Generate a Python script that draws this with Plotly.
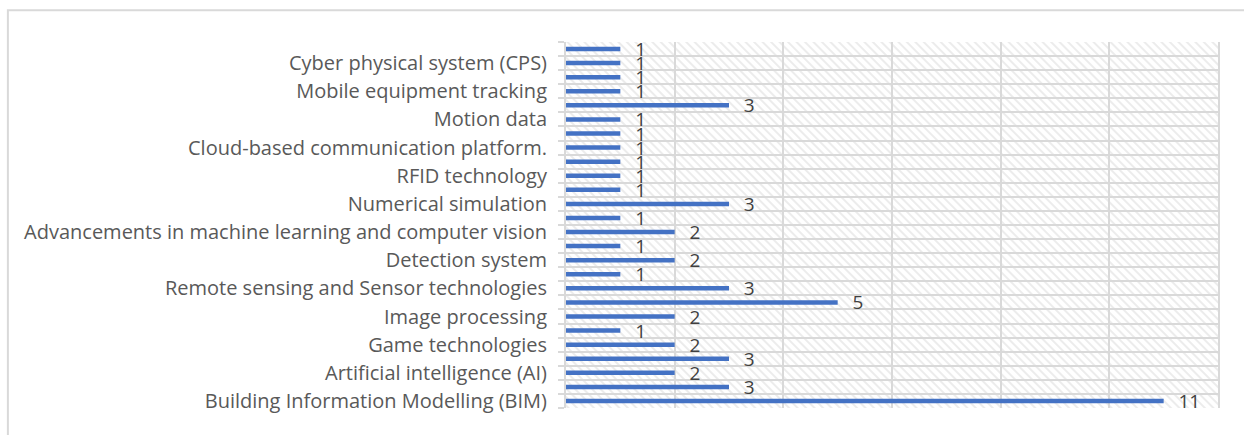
import base64
import plotly.graph_objects as go

# Categories listed bottom to top (only every other one is labelled on the axis)
categories = [
    "Building Information Modelling (BIM)", "Item 2",
    "Artificial intelligence (AI)", "Item 4",
    "Game technologies", "Item 6",
    "Image processing", "Item 8",
    "Remote sensing and Sensor technologies", "Item 10",
    "Detection system", "Item 12",
    "Advancements in machine learning and computer vision", "Item 14",
    "Numerical simulation", "Item 16",
    "RFID technology", "Item 18",
    "Cloud-based communication platform.", "Item 20",
    "Motion data", "Item 22",
    "Mobile equipment tracking", "Item 24",
    "Cyber physical system (CPS)", "Item 26",
]
values = [11, 3, 2, 3, 2, 1, 2, 5, 3, 1, 2, 1, 2, 1, 3, 1, 1, 1, 1, 1, 1, 3, 1, 1, 1, 1]
tick_labels = [c if i % 2 == 0 else "" for i, c in enumerate(categories)]

FONT = "Open Sans"
GRID = "#d9d9d9"

# hatched plot-area background
svg = (
    '<svg xmlns="http://www.w3.org/2000/svg" width="652" height="366">'
    '<defs><pattern id="h" width="6" height="6" patternUnits="userSpaceOnUse" '
    'patternTransform="rotate(-45)">'
    '<line x1="1" y1="0" x2="1" y2="6" stroke="#e2e2e2" stroke-width="1.3"/>'
    '</pattern></defs>'
    '<rect width="100%" height="100%" fill="white"/>'
    '<rect width="100%" height="100%" fill="url(#h)"/></svg>'
)
svg_uri = "data:image/svg+xml;base64," + base64.b64encode(svg.encode()).decode()

fig = go.Figure(
    go.Bar(
        x=values,
        y=categories,
        orientation="h",
        width=0.32,
        marker=dict(color="#4472C4", line=dict(width=0)),
        texttemplate="\u00a0\u00a0\u00a0%{x}",
        textposition="outside",
        constraintext="none",
        textfont=dict(family=FONT, size=19, color="#404040"),
        cliponaxis=False,
        hoverinfo="x+y",
    )
)

fig.update_layout(
    width=1244,
    height=435,
    margin=dict(l=566, r=26, t=42, b=27),
    paper_bgcolor="white",
    plot_bgcolor="white",
    showlegend=False,
    font=dict(family=FONT, size=20, color="#595959"),
    images=[dict(
        source=svg_uri, xref="x domain", yref="y domain",
        x=0, y=1, sizex=1, sizey=1, xanchor="left", yanchor="top",
        sizing="stretch", layer="below",
    )],
    shapes=[dict(
        type="rect", xref="paper", yref="paper",
        x0=-0.856, x1=1.2, y0=-0.3, y1=1.087,
        line=dict(color=GRID, width=2), fillcolor="rgba(0,0,0,0)",
    )],
)

fig.update_xaxes(
    range=[0, 12], dtick=2, showgrid=True, gridcolor=GRID, gridwidth=2,
    showticklabels=False, zeroline=False, showline=False, fixedrange=True,
)
fig.update_yaxes(
    type="category", tickmode="array", tickvals=categories, ticktext=tick_labels,
    tickson="boundaries", ticks="outside", ticklen=6, tickcolor=GRID, tickwidth=2,
    showgrid=True, gridcolor=GRID, gridwidth=2,
    showline=True, mirror=True, linecolor=GRID, linewidth=2,
    ticklabelstandoff=13, tickfont=dict(family=FONT, size=20, color="#595959"),
    fixedrange=True,
)

fig.write_html("out.html")
